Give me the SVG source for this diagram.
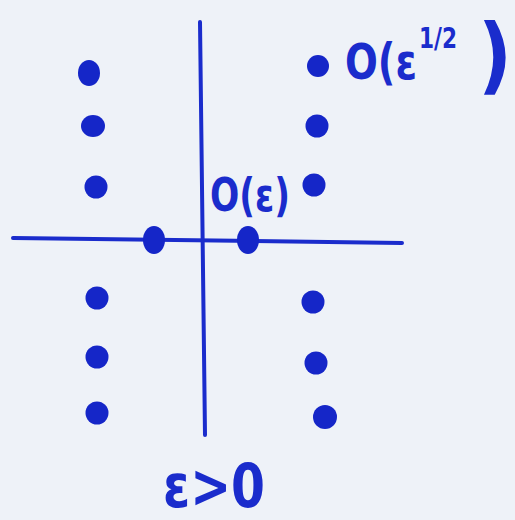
<svg xmlns="http://www.w3.org/2000/svg" width="515" height="520" viewBox="0 0 515 520">
<style>
.ax{stroke:#1a2ccc;stroke-width:4;stroke-linecap:round;fill:none}
.dot{fill:#1526c8}
.lbl{fill:#1a2ccc;font-family:"DejaVu Sans","Liberation Sans",sans-serif;font-weight:bold}
</style>
<rect width="515" height="520" fill="#eef2f8"/>
<g id="axes">
<path class="ax" d="M13,238 L402,243"/>
<path class="ax" d="M200,22 L205,435"/>
</g>
<g id="left-roots">
<ellipse class="dot" cx="89" cy="73" rx="11" ry="13"/>
<ellipse class="dot" cx="93" cy="126" rx="12" ry="11"/>
<circle class="dot" cx="96" cy="187" r="11.5"/>
<circle class="dot" cx="97" cy="298" r="11.5"/>
<circle class="dot" cx="97" cy="357" r="11.5"/>
<circle class="dot" cx="97" cy="413" r="11.5"/>
</g>
<g id="right-roots">
<circle class="dot" cx="318" cy="66" r="11"/>
<circle class="dot" cx="317" cy="126" r="11.5"/>
<circle class="dot" cx="314" cy="185" r="11.5"/>
<circle class="dot" cx="313" cy="302" r="11.5"/>
<circle class="dot" cx="316" cy="363" r="11.5"/>
<circle class="dot" cx="325" cy="417" r="12"/>
</g>
<g id="axis-roots">
<ellipse class="dot" cx="154" cy="240" rx="11" ry="14"/>
<ellipse class="dot" cx="248" cy="240" rx="11" ry="14"/>
</g>
<g id="label-sqrt">
<text class="lbl"><tspan x="345" y="79" font-size="50" textLength="72" lengthAdjust="spacingAndGlyphs">O(ε</tspan><tspan x="419" y="48" font-size="28" textLength="38" lengthAdjust="spacingAndGlyphs">1/2</tspan><tspan x="478" y="84" font-size="84" textLength="34" lengthAdjust="spacingAndGlyphs">)</tspan></text>
</g>
<g id="label-eps">
<text class="lbl" x="210" y="211" font-size="46" textLength="80" lengthAdjust="spacingAndGlyphs">O(ε)</text>
</g>
<g id="label-cond">
<text class="lbl" x="163" y="507" font-size="60" textLength="102" lengthAdjust="spacingAndGlyphs">ε&gt;0</text>
</g>
</svg>
